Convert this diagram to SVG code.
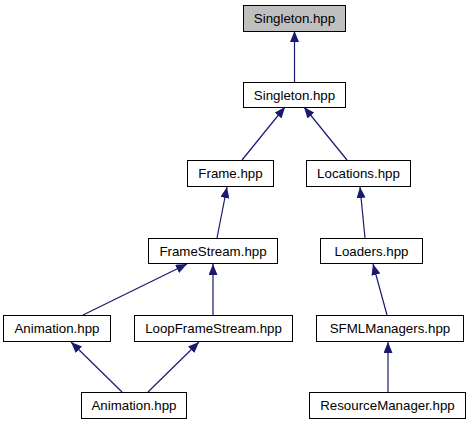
<svg xmlns="http://www.w3.org/2000/svg" width="471" height="427" viewBox="0 0 471 427">
<style>
.box{fill:#ffffff;stroke:#000000;stroke-width:1}
.root{fill:#bfbfbf}
.lbl{font-family:"Liberation Sans",Arial,sans-serif;font-size:13.3px;fill:#000000;text-anchor:middle}
.edge{stroke:#191970;stroke-width:1.2;fill:none;marker-end:url(#ah)}
</style>
<defs>
<marker id="ah" markerUnits="userSpaceOnUse" markerWidth="11" markerHeight="9" refX="11" refY="4.5" orient="auto">
<path d="M0,0 L11,4.5 L0,9 z" fill="#191970"/>
</marker>
</defs>
<rect width="471" height="427" fill="#ffffff"/>
<g id="edges">
<line class="edge" x1="294.5" y1="82" x2="294.5" y2="31"/>
<line class="edge" x1="242" y1="160" x2="285" y2="107"/>
<line class="edge" x1="347" y1="160" x2="304" y2="107"/>
<line class="edge" x1="217" y1="238" x2="227" y2="187"/>
<line class="edge" x1="365" y1="238" x2="360" y2="187"/>
<line class="edge" x1="83" y1="315" x2="187" y2="264"/>
<line class="edge" x1="213" y1="315" x2="213" y2="264"/>
<line class="edge" x1="387" y1="315" x2="373" y2="264"/>
<line class="edge" x1="122" y1="392" x2="71" y2="342"/>
<line class="edge" x1="148" y1="392" x2="199" y2="342"/>
<line class="edge" x1="388" y1="392" x2="388" y2="342"/>
</g>
<g id="n_singleton_root">
<rect class="box root" x="243.5" y="5.5" width="102" height="26"/>
<text class="lbl" x="294.5" y="23">Singleton.hpp</text>
</g>
<g id="n_singleton">
<rect class="box" x="243.5" y="82.5" width="102" height="25"/>
<text class="lbl" x="294.5" y="99.5">Singleton.hpp</text>
</g>
<g id="n_frame">
<rect class="box" x="187.5" y="160.5" width="86" height="26"/>
<text class="lbl" x="230.5" y="178">Frame.hpp</text>
</g>
<g id="n_locations">
<rect class="box" x="306.5" y="160.5" width="104" height="26"/>
<text class="lbl" x="358.5" y="178">Locations.hpp</text>
</g>
<g id="n_framestream">
<rect class="box" x="148.5" y="238.5" width="129" height="25"/>
<text class="lbl" x="213" y="255.5">FrameStream.hpp</text>
</g>
<g id="n_loaders">
<rect class="box" x="320.5" y="238.5" width="102" height="25"/>
<text class="lbl" x="371.5" y="255.5">Loaders.hpp</text>
</g>
<g id="n_animation1">
<rect class="box" x="3.5" y="315.5" width="107" height="26"/>
<text class="lbl" x="57" y="333">Animation.hpp</text>
</g>
<g id="n_loopframestream">
<rect class="box" x="134.5" y="315.5" width="158" height="26"/>
<text class="lbl" x="213.5" y="333">LoopFrameStream.hpp</text>
</g>
<g id="n_sfmlmanagers">
<rect class="box" x="316.5" y="315.5" width="147" height="26"/>
<text class="lbl" x="390" y="333">SFMLManagers.hpp</text>
</g>
<g id="n_animation2">
<rect class="box" x="81.5" y="392.5" width="105" height="26"/>
<text class="lbl" x="134" y="410">Animation.hpp</text>
</g>
<g id="n_resourcemanager">
<rect class="box" x="309.5" y="392.5" width="156" height="26"/>
<text class="lbl" x="387.5" y="410">ResourceManager.hpp</text>
</g>
</svg>
